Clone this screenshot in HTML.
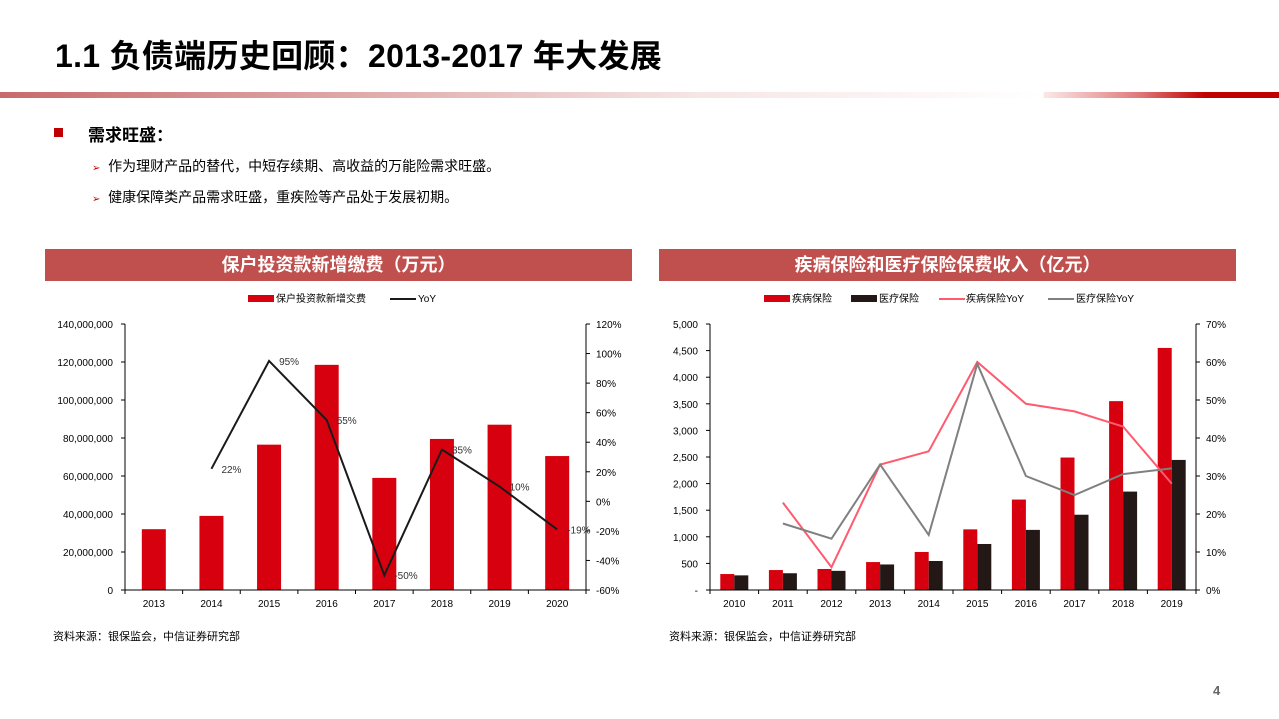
<!DOCTYPE html>
<html><head><meta charset="utf-8">
<style>
body{margin:0;width:1279px;height:719px;background:#fff;overflow:hidden;position:relative;font-family:"Liberation Sans","Noto Sans CJK SC",sans-serif;}
.abs{position:absolute;}
#title{left:55px;top:31px;font-size:32px;font-weight:bold;color:#000;white-space:nowrap;letter-spacing:0.3px;}
#band{left:0;top:92px;width:1279px;height:6px;background:linear-gradient(to right,#c86a6a 0px,#f6e6e6 700px,#fff 1043px,#fbe8e8 1044px,#e07878 1140px,#c00000 1205px,#c00000 1279px);}
.bul{font-size:14px;color:#000;white-space:nowrap;}
.hdr{top:249px;height:32px;background:#c0504d;color:#fff;font-size:18px;font-weight:bold;text-align:center;line-height:32px;}
.src{font-size:11px;color:#000;top:628px;}
svg text{font-family:"Liberation Sans","Noto Sans CJK SC",sans-serif;}
</style></head><body>
<div class="abs" id="title">1.1 负债端历史回顾：2013-2017 年大发展</div>
<div class="abs" id="band"></div>
<div class="abs" style="left:54px;top:128px;width:9px;height:9px;background:#c00000"></div>
<div class="abs bul" style="left:88px;top:121px;font-size:17px;font-weight:bold">需求旺盛：</div>
<div class="abs bul" style="left:92px;top:156px"><span style="color:#c00000;font-size:10px">➢</span>&nbsp; 作为理财产品的替代，中短存续期、高收益的万能险需求旺盛。</div>
<div class="abs bul" style="left:92px;top:187px"><span style="color:#c00000;font-size:10px">➢</span>&nbsp; 健康保障类产品需求旺盛，重疾险等产品处于发展初期。</div>
<div class="abs hdr" style="left:45px;width:587px">保户投资款新增缴费（万元）</div>
<div class="abs hdr" style="left:659px;width:577px">疾病保险和医疗保险保费收入（亿元）</div>
<svg class="abs" style="left:0;top:0" width="1279" height="719" id="svg"></svg>
<div class="abs src" style="left:53px">资料来源：银保监会，中信证券研究部</div>
<div class="abs src" style="left:669px">资料来源：银保监会，中信证券研究部</div>
<div class="abs" style="left:1213px;top:683px;font-size:13px;font-weight:bold;color:#666">4</div>
<script>
const years1=["2013","2014","2015","2016","2017","2018","2019","2020"];
const deposits=[32000000,39000000,76500000,118500000,59000000,79500000,87000000,70500000];
const yoy1=[null,22,95,55,-50,35,10,-19];
const yoy1Labels=["","22%","95%","55%","-50%","35%","10%","-19%"];
const leftTicks1=[0,20000000,40000000,60000000,80000000,100000000,120000000,140000000];
const rightTicks1=[-60,-40,-20,0,20,40,60,80,100,120];

const years2=["2010","2011","2012","2013","2014","2015","2016","2017","2018","2019"];
const illness=[300,375,395,525,715,1140,1700,2490,3550,4550];
const medical=[275,315,360,480,545,865,1130,1415,1850,2445];
const illnessYoy=[null,23,6,33,36.5,60,49,47,43,28];
const medicalYoy=[null,17.5,13.5,33,14.5,59.5,30,25,30.5,32];
const leftTicks2=[0,500,1000,1500,2000,2500,3000,3500,4000,4500,5000];
const rightTicks2=[0,10,20,30,40,50,60,70];

const svg=document.getElementById('svg');
const NS='http://www.w3.org/2000/svg';
function mk(tag,attrs,name,txt){const e=document.createElementNS(NS,tag);for(const k in attrs)e.setAttribute(k,attrs[k]);


if(txt!==undefined)e.textContent=txt;svg.appendChild(e);return e;}
function fmt(v){return v.toLocaleString('en-US');}

// chart 1
(function(){
const L=125,R=586,T=324,B=590;
const n=years1.length,bw=(R-L)/n;
const xc=i=>L+bw*(i+0.5);
const yL=v=>B-(v/140000000)*(B-T);
const yR=v=>B-((v+60)/180)*(B-T);
deposits.forEach((v,i)=>mk('rect',{x:xc(i)-12,y:yL(v),width:24,height:B-yL(v),fill:'#d7000f'},'bar-'+years1[i]));
mk('line',{x1:L,y1:T,x2:L,y2:B,stroke:'#000','stroke-width':1},'left-axis');
mk('line',{x1:R,y1:T,x2:R,y2:B,stroke:'#000','stroke-width':1},'right-axis');
mk('line',{x1:L,y1:B,x2:R,y2:B,stroke:'#000','stroke-width':1},'x-axis');
leftTicks1.forEach(t=>{mk('line',{x1:L-4,y1:yL(t),x2:L,y2:yL(t),stroke:'#000'},'left-tick');
mk('text',{x:L-12,y:yL(t)+4,'font-size':10,'text-anchor':'end'},'left-tick-label',fmt(t));});
rightTicks1.forEach(t=>{mk('line',{x1:R,y1:yR(t),x2:R+4,y2:yR(t),stroke:'#000'},'right-tick');
mk('text',{x:R+10,y:yR(t)+4,'font-size':10},'right-tick-label',t+'%');});
for(let i=0;i<=n;i++)mk('line',{x1:L+bw*i,y1:B,x2:L+bw*i,y2:B+4,stroke:'#000'},'x-tick');
years1.forEach((y,i)=>mk('text',{x:xc(i),y:B+17,'font-size':10,'text-anchor':'middle'},'x-label-'+y,y));
let pts=[];yoy1.forEach((v,i)=>{if(v!==null)pts.push(xc(i)+','+yR(v));});
mk('polyline',{points:pts.join(' '),fill:'none',stroke:'#1a1a1a','stroke-width':2},'yoy-line');
yoy1.forEach((v,i)=>{if(v!==null)mk('text',{x:xc(i)+10,y:yR(v)+4,'font-size':10,fill:'#333'},'yoy-label-'+years1[i],yoy1Labels[i]);});
mk('rect',{x:248,y:295,width:26,height:7,fill:'#d7000f'},'legend-bar-swatch');
mk('text',{x:276,y:302,'font-size':10},'legend-bar-label','保户投资款新增交费');
mk('line',{x1:390,y1:299,x2:416,y2:299,stroke:'#1a1a1a','stroke-width':2},'legend-yoy-swatch');
mk('text',{x:418,y:302,'font-size':10},'legend-yoy-label','YoY');
})();

// chart 2
(function(){
const L=710,R=1196,T=324,B=590;
const n=years2.length,bw=(R-L)/n;
const xc=i=>L+bw*(i+0.5);
const yL=v=>B-(v/5000)*(B-T);
const yR=v=>B-(v/70)*(B-T);
illness.forEach((v,i)=>mk('rect',{x:xc(i)-14,y:yL(v),width:14,height:B-yL(v),fill:'#d7000f'},'illness-bar-'+years2[i]));
medical.forEach((v,i)=>mk('rect',{x:xc(i),y:yL(v),width:14,height:B-yL(v),fill:'#231815'},'medical-bar-'+years2[i]));
mk('line',{x1:L,y1:T,x2:L,y2:B,stroke:'#000'},'left-axis-2');
mk('line',{x1:R,y1:T,x2:R,y2:B,stroke:'#000'},'right-axis-2');
mk('line',{x1:L,y1:B,x2:R,y2:B,stroke:'#000'},'x-axis-2');
leftTicks2.forEach(t=>{mk('line',{x1:L-4,y1:yL(t),x2:L,y2:yL(t),stroke:'#000'},'left-tick-2');
mk('text',{x:L-12,y:yL(t)+4,'font-size':10,'text-anchor':'end'},'left-tick-label-2',t===0?'-':fmt(t));});
rightTicks2.forEach(t=>{mk('line',{x1:R,y1:yR(t),x2:R+4,y2:yR(t),stroke:'#000'},'right-tick-2');
mk('text',{x:R+10,y:yR(t)+4,'font-size':10},'right-tick-label-2',t+'%');});
for(let i=0;i<=n;i++)mk('line',{x1:L+bw*i,y1:B,x2:L+bw*i,y2:B+4,stroke:'#000'},'x-tick-2');
years2.forEach((y,i)=>mk('text',{x:xc(i),y:B+17,'font-size':10,'text-anchor':'middle'},'x-label-2-'+y,y));
const line=(arr,c,nm)=>{let p=[];arr.forEach((v,i)=>{if(v!==null)p.push(xc(i)+','+yR(v));});
mk('polyline',{points:p.join(' '),fill:'none',stroke:c,'stroke-width':2},nm);};
line(illnessYoy,'#ff5a6e','illness-yoy-line');
line(medicalYoy,'#808080','medical-yoy-line');
mk('rect',{x:764,y:295,width:26,height:7,fill:'#d7000f'},'legend-illness-swatch');
mk('text',{x:792,y:302,'font-size':10},'legend-illness-label','疾病保险');
mk('rect',{x:851,y:295,width:26,height:7,fill:'#231815'},'legend-medical-swatch');
mk('text',{x:879,y:302,'font-size':10},'legend-medical-label','医疗保险');
mk('line',{x1:939,y1:299,x2:965,y2:299,stroke:'#ff5a6e','stroke-width':2},'legend-illness-yoy-swatch');
mk('text',{x:966,y:302,'font-size':10},'legend-illness-yoy-label','疾病保险YoY');
mk('line',{x1:1048,y1:299,x2:1074,y2:299,stroke:'#808080','stroke-width':2},'legend-medical-yoy-swatch');
mk('text',{x:1076,y:302,'font-size':10},'legend-medical-yoy-label','医疗保险YoY');
})();
</script>
</body></html>
